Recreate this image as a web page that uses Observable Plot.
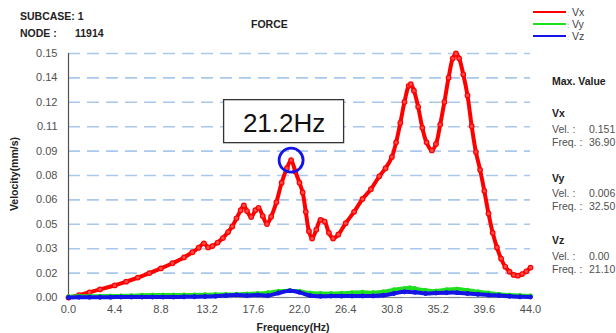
<!DOCTYPE html>
<html>
<head>
<meta charset="utf-8">
<script src="https://cdn.jsdelivr.net/npm/d3@7"></script>
<script src="https://cdn.jsdelivr.net/npm/@observablehq/plot@0.6"></script>
<style>
  body { margin: 0; background: #fff; }
  #chart { position: relative; width: 616px; height: 333px; overflow: hidden; background: #fff; }
  #chart svg { position: absolute; left: 0; top: 0; }
</style>
</head>
<body>
<div id="chart"></div>
<script>
// Vx response (velocity, mm/s) against frequency (Hz)
const freqX = [0, 1, 2, 3, 4.4, 5.5, 6.6, 7.7, 8.8, 9.9, 11.0, 11.8, 12.4, 12.9, 13.3,
  13.7, 14.2, 14.7, 15.2, 15.6, 16.0, 16.4, 16.7, 17.0, 17.4, 17.8, 18.1, 18.5, 18.9, 19.3,
  19.8, 20.3, 20.8, 21.2, 21.6, 22.0, 22.3, 22.6, 22.9, 23.2, 23.6, 24.0, 24.4, 24.8, 25.2,
  25.7, 26.4, 27.2, 28.0, 28.8, 29.6, 30.2, 30.8, 31.2, 31.6, 32.0, 32.4, 32.6, 32.9, 33.3,
  33.7, 34.1, 34.6, 35.0, 35.4, 35.8, 36.2, 36.6, 36.9, 37.2, 37.6, 38.0, 38.4, 38.8, 39.2,
  39.6, 40.0, 40.4, 40.8, 41.2, 41.6, 42.0, 42.4, 42.8, 43.2, 43.6, 44.0];
const vx = [0, 0.0015, 0.0032, 0.005, 0.0075, 0.0098, 0.0123, 0.0151, 0.018, 0.0212, 0.0248, 0.028, 0.0308, 0.0335, 0.031,
  0.0318, 0.034, 0.0368, 0.0405, 0.044, 0.049, 0.054, 0.057, 0.0535, 0.0498, 0.054, 0.0555, 0.0505, 0.0455, 0.050,
  0.059, 0.071, 0.080, 0.085, 0.078, 0.071, 0.065, 0.053, 0.041, 0.0365, 0.042, 0.048, 0.047, 0.040, 0.0365,
  0.039, 0.046, 0.053, 0.061, 0.067, 0.075, 0.080, 0.087, 0.096, 0.108, 0.121, 0.131, 0.132, 0.128, 0.118,
  0.105, 0.096, 0.091, 0.095, 0.107, 0.121, 0.136, 0.148, 0.151, 0.148, 0.138, 0.125, 0.106, 0.090, 0.079,
  0.066, 0.052, 0.040, 0.031, 0.024, 0.019, 0.016, 0.014, 0.0135, 0.0145, 0.0162, 0.0185];

// Vy response
const freqY = [0, 1, 2, 3, 4, 5, 6, 7, 8, 9, 10, 11, 12, 13, 14, 15, 16, 17, 18, 19, 20, 21, 22,
  23, 24, 25, 26, 27, 28, 29, 30, 31, 32, 32.5, 33, 34, 35, 36, 37, 38, 39, 40, 41, 42, 43, 44];
const vy = [0.0005, 0.0008, 0.0008, 0.0008, 0.0009, 0.001, 0.0011, 0.0014, 0.0015, 0.0015, 0.0015, 0.0016,
  0.0016, 0.0017, 0.0018, 0.0018, 0.0019, 0.0022, 0.0025, 0.003, 0.0038, 0.0042, 0.0038, 0.0028, 0.0025,
  0.0024, 0.0026, 0.003, 0.0033, 0.003, 0.0035, 0.0048, 0.0056, 0.006, 0.0055, 0.0045, 0.004, 0.0048,
  0.0052, 0.0045, 0.0035, 0.0028, 0.002, 0.0015, 0.0012, 0.001];

// Vz response
const freqZ = [0, 1, 2, 3, 4, 5, 6, 7, 8, 9, 10, 11, 12, 13, 14, 15, 16, 17, 18, 19, 20, 21.1, 22,
  23, 24, 25, 26, 27, 28, 29, 30, 31, 32, 33, 34, 35, 36, 37, 38, 39, 40, 41, 42, 43, 44];
const vz = [0, 0.0002, 0.0002, 0.0002, 0.0002, 0.0003, 0.0003, 0.0003, 0.0003, 0.0003, 0.0003, 0.0004,
  0.0005, 0.0006, 0.0008, 0.0012, 0.0016, 0.0012, 0.0015, 0.0012, 0.0028, 0.0042, 0.0032, 0.0012, 0.0008,
  0.0009, 0.0009, 0.0009, 0.001, 0.001, 0.0014, 0.0025, 0.0035, 0.0032, 0.0025, 0.0028, 0.003, 0.003,
  0.0025, 0.002, 0.0015, 0.0012, 0.0008, 0.0004, 0.0003];

// Axis ticks and their labels
const xTicks = [0, 4.4, 8.8, 13.2, 17.6, 22.0, 26.4, 30.8, 35.2, 39.6, 44.0];
const xTickLabels = ["0.0", "4.4", "8.8", "13.2", "17.6", "22.0", "26.4", "30.8", "35.2", "39.6", "44.0"];
const yTicks = [0, 0.0151, 0.0302, 0.0453, 0.0604, 0.0755, 0.0906, 0.1057, 0.1208, 0.1359, 0.151];
const yTickLabels = ["0.00", "0.02", "0.03", "0.05", "0.06", "0.08", "0.09", "0.11", "0.12", "0.14", "0.15"];

// Peak annotation
const peakFreq = [21.2];
const peakVel = [0.085];
const peakText = ["21.2Hz"];

// Series legend and max-value summary
const seriesNames = ["Vx", "Vy", "Vz"];
const seriesColors = ["#ff0000", "#1ee01e", "#1414e6"];
const maxVel = ["0.151", "0.006", "0.00"];
const maxFreq = ["36.90", "32.50", "21.10"];

const FONT = '"Liberation Sans", Arial, sans-serif';

const red = freqX.map((f, i) => ({f, v: vx[i]}));
const green = freqY.map((f, i) => ({f, v: vy[i]}));
const blue = freqZ.map((f, i) => ({f, v: vz[i]}));
const ann = peakFreq.map((f, i) => ({f, v: peakVel[i], text: peakText[i]}));

const series = (data, color, w, r) => [
  Plot.line(data, {x: "f", y: "v", stroke: color, strokeWidth: w, curve: "catmull-rom"}),
  Plot.dot(data, {x: "f", y: "v", r, stroke: color, fill: color, strokeWidth: 1})
];

const plot = Plot.plot({
  width: 616,
  height: 333,
  marginLeft: 68,
  marginRight: 86,
  marginTop: 53,
  marginBottom: 36,
  style: {fontFamily: FONT, fontSize: "11px", color: "#505050", background: "transparent"},
  x: {domain: [0, 44]},
  y: {domain: [0, 0.151]},
  marks: [
    Plot.gridY(yTicks, {stroke: "#a9c8ea", strokeOpacity: 1, strokeWidth: 1.6, strokeDasharray: "12,7"}),
    Plot.ruleY([0], {stroke: "#8a8a8a", strokeWidth: 1}),
    Plot.ruleX([0], {stroke: "#505050", strokeWidth: 1.2}),
    Plot.axisY(yTicks, {tickSize: 0, tickPadding: 11, tickFormat: (d, i) => yTickLabels[i], label: null}),
    Plot.axisX(xTicks, {tickSize: 0, tickPadding: 8, tickFormat: (d, i) => xTickLabels[i], label: null}),
    Plot.line(red, {x: "f", y: "v", stroke: "#ff0000", strokeWidth: 4, curve: "catmull-rom"}),
    Plot.dot(red, {x: "f", y: "v", r: 2.3, stroke: "#ff0000", fill: "#ff4a4a", strokeWidth: 1.2}),
    ...series(green, seriesColors[1], 4, 2),
    ...series(blue, seriesColors[2], 4, 2),
    Plot.rect(ann, {x1: "f", x2: "f", y1: "v", y2: "v",
      insetLeft: -67, insetRight: -53, insetTop: -60, insetBottom: 17,
      fill: "white", stroke: "#333", strokeWidth: 1.3}),
    Plot.text(ann, {x: "f", y: "v", text: "text", dx: -7, dy: -36, fontSize: 26, fill: "#111"}),
    Plot.dot(ann, {x: "f", y: "v", r: 12, stroke: "#1414e6", strokeWidth: 2.8, fill: "none"})
  ]
});

const chart = document.getElementById("chart");
chart.appendChild(plot);

// Header, legend, axis titles and summary panel
const svg = d3.select(chart).append("svg")
  .attr("width", 616).attr("height", 333)
  .style("font-family", FONT);

function txt(s, x, y, {size = 10.5, weight = "normal", fill = "#222", anchor = "start"} = {}) {
  return svg.append("text").attr("x", x).attr("y", y)
    .attr("font-size", size).attr("font-weight", weight)
    .attr("fill", fill).attr("text-anchor", anchor).text(s);
}

txt("SUBCASE: 1", 20, 20, {weight: "bold"});
txt("NODE :", 20, 36.5, {weight: "bold"});
txt("11914", 75, 36.5, {weight: "bold"});
txt("FORCE", 251, 27.5, {weight: "bold"});

// legend
seriesNames.forEach((name, i) => {
  const y = 12 + i * 12;
  svg.append("line").attr("x1", 533).attr("x2", 566).attr("y1", y).attr("y2", y)
    .attr("stroke", seriesColors[i]).attr("stroke-width", 2);
  txt(":", 567, y + 3.7, {size: 8, fill: "#999"});
  txt(name, 572, y + 3.7, {size: 10.5, fill: "#444"});
});

// axis titles
svg.append("text")
  .attr("transform", "translate(17.5,174) rotate(-90)")
  .attr("text-anchor", "middle").attr("font-size", 10.5).attr("font-weight", "bold")
  .attr("fill", "#222").text("Velocity(mm/s)");
txt("Frequency(Hz)", 293, 330.5, {weight: "bold", anchor: "middle"});

// max value summary
txt("Max. Value", 552, 85, {weight: "bold"});
const blockTops = [117, 181.5, 244];
seriesNames.forEach((name, i) => {
  const y0 = blockTops[i];
  txt(name, 552, y0, {weight: "bold"});
  txt("Vel. :", 552, y0 + 15.5, {fill: "#505050"});
  txt(maxVel[i], 589, y0 + 15.5, {fill: "#505050"});
  txt("Freq. :", 552, y0 + 28.5, {fill: "#505050"});
  txt(maxFreq[i], 589, y0 + 28.5, {fill: "#505050"});
});
</script>
</body>
</html>
